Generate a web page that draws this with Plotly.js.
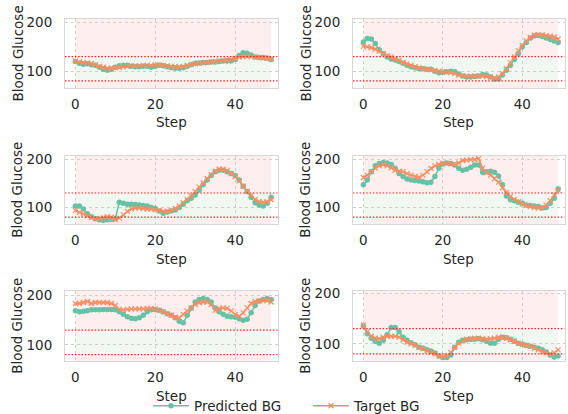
<!DOCTYPE html>
<html>
<head>
<meta charset="utf-8">
<script src="https://cdn.plot.ly/plotly-3.0.1.min.js"></script>
<style>html,body{margin:0;padding:0;background:#fff;}#chart{width:568px;height:414px;}</style>
</head>
<body>
<div id="chart"></div>
<script>
// ---- data ----
var steps = [];
for (var i = 0; i < 50; i++) steps.push(i);

var pred1 = [120,116,114,115,113,112,108,104,102,104,108,111,112,112,110,109,109,110,110,108,110,112,111,109,107,106,106,107,110,113,116,117,118,118,119,119,120,121,121,121,124,132,138,137,133,129,128,128,127,124];
var targ1 = [121,119,118,117,116,113,110,108,106,106,107,108,109,110,111,111,111,112,112,112,113,113,112,111,110,109,109,110,112,114,115,116,117,118,119,120,121,122,123,124,126,129,130,130,130,129,128,127,126,125];

var pred2 = [160,167,166,157,144,136,129,125,123,120,116,112,109,107,105,105,104,104,100,97,98,99,100,99,94,90,88,88,89,90,93,92,88,84,84,92,102,112,124,136,150,159,168,172,173,171,168,165,162,159];
var targ2 = [151,150,148,145,141,136,132,129,125,122,118,115,112,109,107,105,104,103,101,100,99,98,97,95,92,91,90,90,90,90,90,89,88,86,88,95,105,117,129,142,153,162,169,174,175,175,173,172,170,166];

var pred3 = [103,103,97,87,81,77,75,73,75,76,77,111,109,107,107,106,105,104,103,100,98,93,88,91,93,95,100,107,114,119,126,136,147,157,166,174,177,177,174,170,166,157,144,133,121,110,105,103,109,121];
var targ3 = [94,90,87,83,79,77,77,79,81,80,75,78,85,92,97,99,99,98,97,97,95,94,92,92,94,98,103,110,117,124,133,142,151,160,168,175,179,179,176,170,164,155,144,134,125,117,112,111,112,116];

var pred4 = [147,157,174,186,191,193,192,189,181,170,164,159,157,156,155,153,151,152,164,181,190,192,191,188,181,177,179,183,188,188,173,174,175,173,165,147,124,116,114,111,109,105,104,103,102,99,100,109,119,138];
var targ4 = [162,167,174,181,186,188,186,182,177,175,174,170,167,164,162,167,174,181,186,189,191,191,190,189,192,197,198,199,199,201,181,172,167,160,152,141,131,123,117,112,107,104,102,100,99,100,105,114,126,136];

var pred5 = [169,167,168,169,171,171,171,172,172,172,171,167,162,157,154,153,155,160,167,171,172,170,167,163,160,155,148,145,160,175,187,192,194,192,187,175,167,162,158,157,156,153,150,152,165,180,189,192,194,192];
var targ5 = [184,184,186,188,184,186,186,186,186,184,180,172,171,172,173,173,173,173,174,174,173,170,167,163,160,156,155,162,169,175,182,186,187,187,182,170,174,175,174,169,162,158,165,175,184,188,189,190,190,187];

var pred6 = [135,120,111,105,101,107,118,132,132,124,113,107,102,98,93,91,88,86,82,76,73,73,78,93,103,107,108,109,109,110,108,105,101,101,109,113,112,109,105,101,99,97,95,93,91,88,84,78,74,76];
var targ6 = [137,124,115,111,110,113,115,115,115,113,108,103,100,97,93,90,86,83,80,76,74,76,83,93,101,106,109,110,111,111,110,109,110,111,113,113,111,108,105,101,99,97,95,91,88,84,82,80,82,88];

var predicted = [pred1, pred2, pred3, pred4, pred5, pred6];
var targets = [targ1, targ2, targ3, targ4, targ5, targ6];

var xTicks = [0, 20, 40];
var yTicks = [100, 200];
var lowBG = 80, highBG = 130;
var seriesNames = ['Predicted BG', 'Target BG'];
var xTitle = 'Step', yTitle = 'Blood Glucose';

// ---- layout geometry ----
var W = 568, H = 414;
var colPx = [[65, 277.5], [353, 564.5]];
var rowPx = [[19, 88], [155.7, 224], [290.7, 361]];
var yRanges = [[65.5, 207], [65.5, 207], [66, 207], [66, 207], [67, 210], [66, 205]];
var yTitleX = [17, 305];
var xTitleOffset = 34.5;

var textColor = '#262626';
var font = {family: 'DejaVu Sans, sans-serif', size: 13.5, color: textColor};
var greenC = '#66c2a5', orangeC = '#fc8d62';

var traces = [];
var layout = {
  width: W, height: H,
  margin: {l: 0, r: 0, t: 0, b: 0, autoexpand: false},
  paper_bgcolor: '#ffffff', plot_bgcolor: '#ffffff',
  font: font,
  showlegend: true,
  legend: {orientation: 'h', xref: 'container', yref: 'container',
           x: 148 / W, xanchor: 'left', y: 1 - 406 / H, yanchor: 'middle',
           font: font, itemwidth: 36, entrywidth: 109, bgcolor: 'rgba(0,0,0,0)', tracegroupgap: 0},
  shapes: [],
  annotations: []
};

for (var k = 0; k < 6; k++) {
  var r = Math.floor(k / 2), c = k % 2;
  var sfx = k === 0 ? '' : String(k + 1);
  var xa = 'x' + sfx, ya = 'y' + sfx;
  traces.push({
    x: steps, y: predicted[k], xaxis: xa, yaxis: ya, type: 'scatter', mode: 'lines+markers',
    name: seriesNames[0], legendgroup: 'p', showlegend: k === 0,
    line: {color: greenC, width: 1.5},
    marker: {color: greenC, size: 5.5, symbol: 'circle'}
  });
  traces.push({
    x: steps, y: targets[k], xaxis: xa, yaxis: ya, type: 'scatter', mode: 'lines+markers',
    name: seriesNames[1], legendgroup: 't', showlegend: k === 0,
    line: {color: orangeC, width: 1.5},
    marker: {color: orangeC, size: 5, symbol: 'x-thin', line: {color: orangeC, width: 1.2}}
  });
  layout['xaxis' + sfx] = {
    domain: [colPx[c][0] / W, colPx[c][1] / W], anchor: ya,
    range: [-2.6, 50.6], tickvals: xTicks, ticks: 'outside', ticklen: 4, tickcolor: 'rgba(0,0,0,0)',
    showgrid: true, gridcolor: '#cfcfcf', griddash: 'dot', gridwidth: 1,
    zeroline: false, showline: true, mirror: true, linecolor: '#d6d6d6', linewidth: 1,
    tickfont: font
  };
  layout['yaxis' + sfx] = {
    domain: [1 - rowPx[r][1] / H, 1 - rowPx[r][0] / H], anchor: xa,
    range: yRanges[k], tickvals: yTicks, ticks: 'outside', ticklen: 9, tickcolor: 'rgba(0,0,0,0)',
    showgrid: true, gridcolor: '#cfcfcf', griddash: 'dot', gridwidth: 1,
    zeroline: false, showline: true, mirror: true, linecolor: '#d6d6d6', linewidth: 1,
    tickfont: font
  };
  // axis titles
  layout.annotations.push({text: xTitle, xref: 'paper', yref: 'paper',
    x: (colPx[c][0] + colPx[c][1]) / 2 / W, y: 1 - (rowPx[r][1] + xTitleOffset) / H,
    xanchor: 'center', yanchor: 'middle', showarrow: false, font: font});
  layout.annotations.push({text: yTitle, xref: 'paper', yref: 'paper', textangle: -90,
    x: yTitleX[c] / W, y: 1 - (rowPx[r][0] + rowPx[r][1]) / 2 / H,
    xanchor: 'center', yanchor: 'middle', showarrow: false, font: font});

  var xd = xa + ' domain';
  layout.shapes.push({type: 'rect', xref: xa, yref: ya, x0: steps[0], x1: steps[steps.length - 1],
    y0: highBG, y1: yRanges[k][1], fillcolor: 'rgba(255,0,0,0.065)', line: {width: 0}, layer: 'below'});
  layout.shapes.push({type: 'rect', xref: xa, yref: ya, x0: steps[0], x1: steps[steps.length - 1],
    y0: yRanges[k][0], y1: lowBG, fillcolor: 'rgba(255,0,0,0.065)', line: {width: 0}, layer: 'below'});
  layout.shapes.push({type: 'rect', xref: xa, yref: ya, x0: steps[0], x1: steps[steps.length - 1],
    y0: lowBG, y1: highBG, fillcolor: 'rgba(0,128,0,0.055)', line: {width: 0}, layer: 'below'});
  [lowBG, highBG].forEach(function (v) {
    layout.shapes.push({type: 'line', xref: xd, yref: ya, x0: 0, x1: 1, y0: v, y1: v,
      line: {color: '#ff2020', width: 1.2, dash: '1.5px,1.8px'}, layer: 'above'});
  });
}

Plotly.newPlot('chart', traces, layout, {displayModeBar: false, staticPlot: true});
</script>
</body>
</html>
